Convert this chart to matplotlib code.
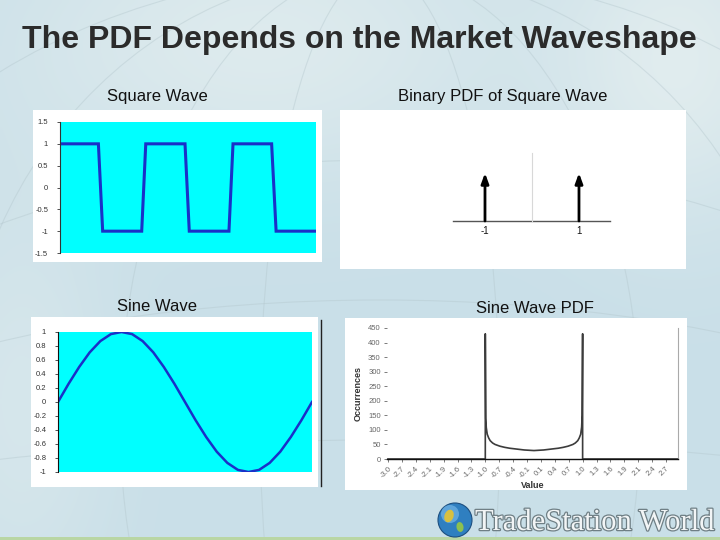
import matplotlib
matplotlib.use('Agg')
import matplotlib.pyplot as plt
import numpy as np
from matplotlib.patches import Rectangle, Circle, Ellipse
import matplotlib.patheffects as pe

# ---------------- data ----------------
title = "The PDF Depends on the Market Waveshape"
sub_titles = ["Square Wave", "Binary PDF of Square Wave", "Sine Wave", "Sine Wave PDF"]

# square wave (time, value)
sq_t = [0, 18, 20, 38.3, 40.2, 58.6, 60.6, 79.2, 81.1, 99.2, 101.3, 120]
sq_v = [1, 1, -1, -1, 1, 1, -1, -1, 1, 1, -1, -1]
sq_yticks = [1.5, 1, 0.5, 0, -0.5, -1, -1.5]
sq_ylabels = ["1.5", "1", "0.5", "0", "-0.5", "-1", "-1.5"]

# binary PDF
bin_x = [-1, 1]
bin_h = [1, 1]
bin_labels = ["-1", "1"]

# sine wave samples (every 15 degrees)
sine_v = [0, 0.26, 0.5, 0.71, 0.87, 0.97, 1.0, 0.97, 0.87, 0.71, 0.5, 0.26, 0,
          -0.26, -0.5, -0.71, -0.87, -0.97, -1.0, -0.97, -0.87, -0.71, -0.5, -0.26, 0]
sine_yticks = [1, 0.8, 0.6, 0.4, 0.2, 0, -0.2, -0.4, -0.6, -0.8, -1]
sine_ylabels = ["1", "0.8", "0.6", "0.4", "0.2", "0", "-0.2", "-0.4", "-0.6", "-0.8", "-1"]

# sine wave PDF (value, occurrences)
pdf_x = [-3.0, -1.0, -1.0, -0.99, -0.98, -0.96, -0.93, -0.9, -0.85, -0.8, -0.7, -0.6,
         -0.5, -0.4, -0.3, -0.2, -0.1, 0.0, 0.1, 0.2, 0.3, 0.4, 0.5, 0.6, 0.7, 0.8,
         0.85, 0.9, 0.93, 0.96, 0.98, 0.99, 1.0, 1.0, 2.96]
pdf_y = [0, 0, 430, 140, 108, 85, 72, 63, 55, 50, 44, 40, 37, 35, 33, 31, 30, 29, 30,
         31, 33, 35, 37, 40, 44, 50, 55, 63, 72, 85, 110, 150, 430, 0, 0]
pdf_xticks = [-3.0, -2.714, -2.429, -2.143, -1.857, -1.571, -1.286, -1.0, -0.714, -0.429,
              -0.143, 0.143, 0.429, 0.714, 1.0, 1.286, 1.571, 1.857, 2.143, 2.429, 2.714]
pdf_xlabels = ["-3.0", "-2.7", "-2.4", "-2.1", "-1.9", "-1.6", "-1.3", "-1.0", "-0.7", "-0.4",
               "-0.1", "0.1", "0.4", "0.7", "1.0", "1.3", "1.6", "1.9", "2.1", "2.4", "2.7"]
pdf_yticks = [0, 50, 100, 150, 200, 250, 300, 350, 400, 450]

brand = "TradeStation World"

# ---------------- figure ----------------
W, H = 720, 540
fig = plt.figure(figsize=(7.2, 5.4), dpi=100)
plt.rcParams['font.family'] = ['Liberation Sans', 'DejaVu Sans']


def px_axes(x0, y0, x1, y1, **kw):
    return fig.add_axes([x0 / W, 1 - y1 / H, (x1 - x0) / W, (y1 - y0) / H], **kw)


# background
bg = px_axes(0, 0, W, H)
bg.set_xlim(0, W)
bg.set_ylim(H, 0)
bg.axis('off')
yy, xx = np.mgrid[0:H:4, 0:W:4]
c1 = np.array([0xc9, 0xdf, 0xe8]) / 255
c2 = np.array([0xee, 0xf4, 0xf2]) / 255
w = (0.55 * np.exp(-((xx - 260) / 260.0) ** 2 - ((yy - 40) / 140.0) ** 2)
     + 0.6 * np.exp(-((xx - 680) / 120.0) ** 2 - ((yy - 60) / 160.0) ** 2)
     + 0.35 * np.exp(-((xx - 20) / 90.0) ** 2 - ((yy - 400) / 200.0) ** 2))
w = np.clip(w, 0, 1)[..., None]
img = c1 * (1 - w) + c2 * w
bg.imshow(img, extent=(0, W, H, 0), aspect='auto', interpolation='bilinear', zorder=0)

# faint globe grid
for rx in [120, 260, 420, 600]:
    bg.add_patch(Ellipse((380, 420), rx * 2, 900, fill=False, ec='#b3c6cc', lw=0.8, alpha=0.4, zorder=1))
for ry in [120, 260, 400]:
    bg.add_patch(Ellipse((380, 560), 1400, ry * 2, fill=False, ec='#b3c6cc', lw=0.8, alpha=0.4, zorder=1))

# bottom line
bg.add_patch(Rectangle((0, 537), W, 3, fc='#b9d6a4', ec='none', zorder=2))

# white panels
for (x0, y0, x1, y1) in [(33, 110, 322, 262), (340, 110, 686, 269), (31, 317, 318, 487), (345, 318, 687, 490)]:
    bg.add_patch(Rectangle((x0, y0), x1 - x0, y1 - y0, fc='white', ec='none', zorder=3))
bg.plot([321, 321], [320, 486], color='#222222', lw=1.0, zorder=4)

# title and subtitles
fig.text(359.5 / W, 1 - 48 / H, title, ha='center', va='baseline', fontsize=23,
         fontweight='bold', color='#2b2b2b')
fig.text(157 / W, 1 - 101 / H, sub_titles[0], ha='center', va='baseline', fontsize=12, color='#111111')
fig.text(503 / W, 1 - 101 / H, sub_titles[1], ha='center', va='baseline', fontsize=12, color='#111111')
fig.text(157 / W, 1 - 311 / H, sub_titles[2], ha='center', va='baseline', fontsize=12, color='#111111')
fig.text(535 / W, 1 - 313 / H, sub_titles[3], ha='center', va='baseline', fontsize=12, color='#111111')

line_blue = '#1a30c8'
cyan = '#00ffff'

# ---- square wave ----
ax1 = px_axes(60, 122, 316, 253)
ax1.set_facecolor(cyan)
ax1.plot(sq_t, sq_v, color=line_blue, lw=2.2, solid_joinstyle='miter')
ax1.set_xlim(sq_t[0], sq_t[-1])
ax1.set_ylim(-1.5, 1.5)
ax1.set_yticks(sq_yticks)
ax1.set_yticklabels(sq_ylabels)
ax1.set_xticks([])
for s in ['top', 'right', 'bottom']:
    ax1.spines[s].set_visible(False)
ax1.spines['left'].set_color('#333333')
ax1.spines['left'].set_linewidth(0.8)
ax1.tick_params(axis='y', labelsize=5.5, colors='#333333', length=2.5, width=0.6, pad=6)

# ---- binary PDF ----
ax2 = px_axes(340, 110, 686, 269)
ax2.set_xlim(-4.085, 3.277)
ax2.set_ylim(-1.0, 2.3125)
ax2.axis('off')
ax2.plot([-1.68, 1.66], [0, 0], color='#555555', lw=1.0)
ax2.plot([0, 0], [0, 1.42], color='#d8d8d8', lw=0.8)
for xv, hv, lab in zip(bin_x, bin_h, bin_labels):
    ax2.annotate('', xy=(xv, hv), xytext=(xv, 0),
                 arrowprops=dict(arrowstyle='-|>,head_length=0.6,head_width=0.22',
                                 color='black', lw=2.0, shrinkA=0, shrinkB=0))
    ax2.text(xv, -0.2, lab, ha='center', va='center', fontsize=7, color='#111111')

# ---- sine wave ----
ax3 = px_axes(58, 332, 312, 472)
ax3.set_facecolor(cyan)
ax3.plot(np.arange(len(sine_v)), sine_v, color=line_blue, lw=1.8)
ax3.set_xlim(0, len(sine_v) - 1)
ax3.set_ylim(-1, 1)
ax3.set_yticks(sine_yticks)
ax3.set_yticklabels(sine_ylabels)
ax3.set_xticks([])
for s in ['top', 'right', 'bottom']:
    ax3.spines[s].set_visible(False)
ax3.spines['left'].set_color('#111111')
ax3.spines['left'].set_linewidth(0.8)
ax3.tick_params(axis='y', labelsize=5.5, colors='#333333', length=2.5, width=0.6, pad=6)

# ---- sine wave PDF ----
ax4 = px_axes(387, 328, 678, 459)
ax4.set_facecolor('white')
ax4.plot(pdf_x, pdf_y, color='#3c3c3c', lw=1.2)
ax4.set_xlim(-3.02, 2.96)
ax4.set_ylim(0, 450)
ax4.set_yticks(pdf_yticks)
ax4.set_xticks(pdf_xticks)
ax4.set_xticklabels(pdf_xlabels, rotation=45, ha='right', rotation_mode='anchor')
ax4.spines['top'].set_visible(False)
ax4.spines['left'].set_visible(False)
ax4.spines['right'].set_color('#aaaaaa')
ax4.spines['right'].set_linewidth(0.8)
ax4.spines['bottom'].set_color('#111111')
ax4.spines['bottom'].set_linewidth(1.0)
ax4.tick_params(axis='y', labelsize=5.5, colors='#666666', length=2.5, width=0.6, pad=2)
ax4.tick_params(axis='x', labelsize=5.5, colors='#666666', length=2.5, width=0.6, pad=2)
ax4.set_ylabel('Occurrences', fontsize=6.5, fontweight='bold', color='#333333', labelpad=4)
ax4.set_xlabel('Value', fontsize=6.5, fontweight='bold', color='#333333', labelpad=1)

# ---- logo ----
bg.add_patch(Circle((455, 520), 17, fc='#2f7fc0', ec='#1d4f80', lw=0.8, zorder=5))
bg.add_patch(Circle((450, 514), 9, fc='#7fc0ee', ec='none', alpha=0.6, zorder=6))
bg.add_patch(Ellipse((449, 516), 9, 13, angle=20, fc='#d8c040', ec='none', zorder=7))
bg.add_patch(Ellipse((460, 527), 7, 10, angle=-10, fc='#8cc050', ec='none', zorder=7))
bg.text(475, 530, brand, fontsize=22, family=['Liberation Serif', 'DejaVu Serif'],
        color='#f2f5f6', va='baseline', ha='left', zorder=8,
        path_effects=[pe.withStroke(linewidth=1.8, foreground='#6f7f85')])

fig.savefig('out.png', dpi=100)
